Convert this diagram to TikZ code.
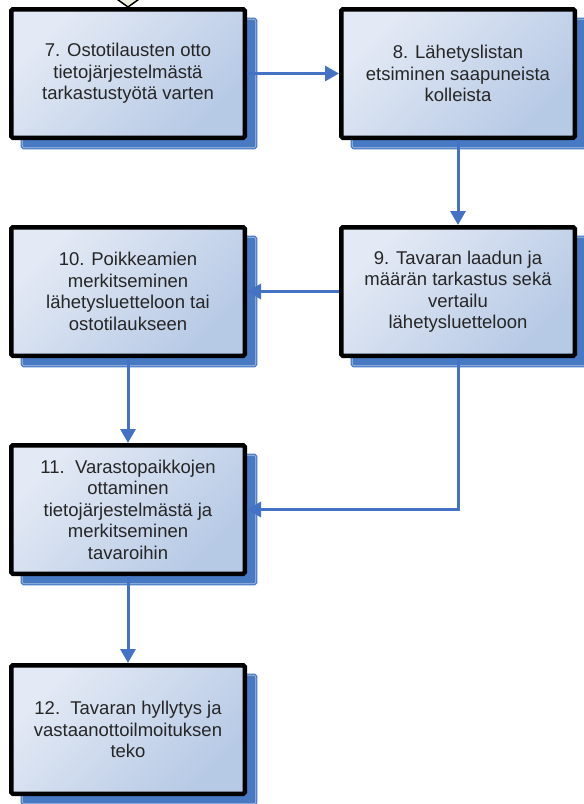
\documentclass[tikz,border=0pt]{standalone}
\usepackage{fontspec}
\setmainfont{Liberation Sans}
\usetikzlibrary{shapes, arrows.meta, positioning, shadows}
\definecolor{viiva}{RGB}{68,114,196}
\definecolor{varjo}{RGB}{72,122,196}
\definecolor{vaalea}{RGB}{228,234,245}
\definecolor{tumma}{RGB}{182,201,229}
\definecolor{karki}{RGB}{236,240,222}
\tikzstyle{vaihe} = [draw=black, line width=4.5pt, rounded corners=1.5pt, minimum width=233.5pt, minimum height=128.5pt, top color=vaalea, bottom color=tumma, shading angle=45, align=center, text=black!85, font=\fontsize{18.5}{21.5}\selectfont, drop shadow={shadow xshift=11pt, shadow yshift=-10pt, fill=varjo, draw=varjo, double=varjo!45!white, double distance=0.6pt, line width=1.4pt, opacity=1}]
\tikzstyle{nuoli} = [draw=viiva, line width=3pt, -{Triangle[length=14pt, width=15pt]}]

\begin{document}
\begin{tikzpicture}
	\useasboundingbox (0,0) rectangle (584pt,-804pt);
	\node [vaihe] (v7) at (128pt,-73.5pt) {7. Ostotilausten otto\\tietojärjestelmästä\\tarkastustyötä varten};
	\node [vaihe, right=92pt of v7] (v8) {8. Lähetyslistan\\etsiminen saapuneista\\kolleista};
	\node [vaihe, below=85pt of v8] (v9) {9. Tavaran laadun ja\\määrän tarkastus sekä\\vertailu\\lähetysluetteloon};
	\node [vaihe, left=92pt of v9] (v10) {10. Poikkeamien\\merkitseminen\\lähetysluetteloon tai\\ostotilaukseen};
	\node [vaihe, below=85pt of v10] (v11) {11.\ \ Varastopaikkojen\\ottaminen\\tietojärjestelmästä ja\\merkitseminen\\tavaroihin};
	\node [vaihe, below=87pt of v11] (v12) {12.\ \ Tavaran hyllytys ja\\vastaanottoilmoituksen\\teko};

	% edellisen sivun nuolen karki
	\begin{scope}
		\clip (0,0) rectangle (584pt,-804pt);
		\draw [fill=karki, line width=1.5pt, line join=miter] (v7.north) -- ++(-14pt,10pt) -- ++(28pt,0) -- cycle;
	\end{scope}

	\draw [nuoli] (v7) -- (v8);
	\draw [nuoli] (v8) -- (v9);
	\draw [nuoli] (v9) -- (v10);
	\draw [nuoli] (v10) -- (v11);
	\draw [nuoli] (v9.south) |- (v11.east);
	\draw [nuoli] (v11) -- (v12);
\end{tikzpicture}
\end{document}
